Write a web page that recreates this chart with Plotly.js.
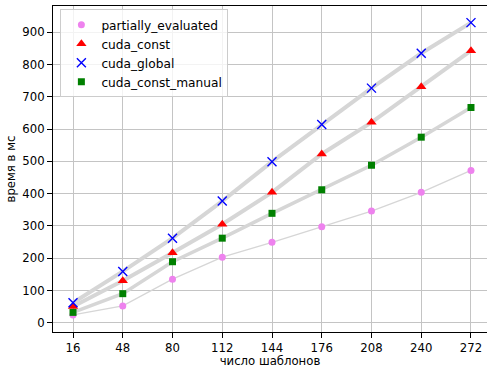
<!DOCTYPE html>
<html>
<head>
<meta charset="utf-8">
<script src="https://cdn.plot.ly/plotly-3.0.1.min.js"></script>
<style>html,body{margin:0;padding:0;overflow:hidden;background:#fff;}</style>
</head>
<body>
<div id="chart" style="width:487px;height:368px;"></div>
<script>
const templates = [16, 48, 80, 112, 144, 176, 208, 240, 272];
const partiallyEvaluated = [24, 52, 135, 203, 249, 297, 346, 404, 472];
const cudaConst = [50, 130, 217, 305, 404, 523, 621, 731, 843];
const cudaGlobal = [62, 159, 262, 377, 499, 614, 727, 835, 930];
const cudaConstManual = [32, 90, 189, 262, 339, 412, 488, 575, 667];

const series = [
  {name: 'partially_evaluated', y: partiallyEvaluated, color: 'violet', symbol: 'circle', size: 7, lw: 1.3},
  {name: 'cuda_const', y: cudaConst, color: 'red', symbol: 'triangle-up', size: 9, lw: 4},
  {name: 'cuda_global', y: cudaGlobal, color: 'blue', symbol: 'x-thin', size: 9, lw: 4},
  {name: 'cuda_const_manual', y: cudaConstManual, color: 'green', symbol: 'square', size: 7, lw: 3.5}
];

const traces = [];
series.forEach(s => {
  traces.push({x: templates, y: s.y, mode: 'lines', showlegend: false, hoverinfo: 'skip',
    line: {color: '#d6d6d6', width: s.lw}});
});
series.forEach(s => {
  traces.push({x: templates, y: s.y, mode: 'markers', name: s.name,
    marker: {color: s.color, symbol: s.symbol, size: s.size,
      line: s.symbol === 'x-thin' ? {color: s.color, width: 1.4} : {width: 0}}});
});

const layout = {
  width: 487, height: 368,
  margin: {l: 53, r: 0, t: 6, b: 36},
  paper_bgcolor: '#fff', plot_bgcolor: '#fff',
  font: {family: 'DejaVu Sans', size: 11.7, color: '#000'},
  showlegend: true,
  legend: {x: 0.017, y: 0.99, xanchor: 'left', yanchor: 'top',
    bgcolor: 'rgba(255,255,255,0.8)', bordercolor: '#cccccc', borderwidth: 1,
    font: {size: 12.2}},
  xaxis: {range: [3.13, 282.3], tickvals: templates, ticktext: templates.map(String),
    showgrid: true, gridcolor: '#c4c4c4', gridwidth: 1, zeroline: false,
    showline: true, linecolor: '#000', linewidth: 1, mirror: true,
    ticks: 'outside', ticklen: 5, tickcolor: '#000',
    title: {text: 'число шаблонов', standoff: 6, font: {size: 11.7}}},
  yaxis: {range: [-28.8, 981.5], tickvals: [0,100,200,300,400,500,600,700,800,900],
    showgrid: true, gridcolor: '#c4c4c4', gridwidth: 1, zeroline: false,
    showline: true, linecolor: '#000', linewidth: 1,
    ticks: 'outside', ticklen: 5, tickcolor: '#000',
    title: {text: 'время в мс', standoff: 4, font: {size: 11.7}}}
};

Plotly.newPlot('chart', traces, layout, {displayModeBar: false, staticPlot: true});
</script>
</body>
</html>
